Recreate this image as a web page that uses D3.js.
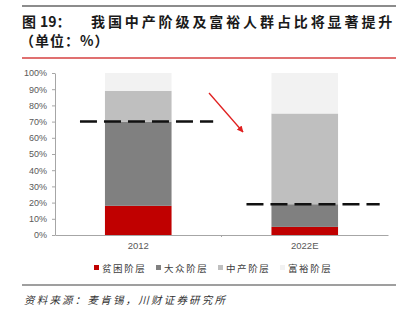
<!DOCTYPE html>
<html>
<head>
<meta charset="utf-8">
<script src="https://cdn.jsdelivr.net/npm/d3@7/dist/d3.min.js"></script>
<style>
  body { margin: 0; background: #fff; }
  svg { display: block; }
</style>
</head>
<body>
<svg id="chart" width="408" height="325"></svg>
<script>
// categories and stacked shares (%)
const years = ['2012', '2022E']
const poor = [18, 5]
const mass = [52, 14]
const middle = [19, 56]
const affluent = [11, 25]
const classNames = ['贫困阶层', '大众阶层', '中产阶层', '富裕阶层']
const yTicks = [0, 10, 20, 30, 40, 50, 60, 70, 80, 90, 100]

const colors = ['#c00000', '#808080', '#bfbfbf', '#f2f2f2']

const svg = d3.select('#chart')
const font = '"Liberation Sans", Arial, sans-serif'
const cjk = '"Noto Sans CJK SC", sans-serif'

// header rules and title
svg.append('line').attr('x1', 22).attr('x2', 396).attr('y1', 6).attr('y2', 6)
	.attr('stroke', '#8c8c8c').attr('stroke-width', 2)
const title = svg.append('g').attr('font-family', cjk).attr('font-weight', 'bold')
	.attr('font-size', 14).attr('fill', '#1a1a1a')
const line1 = title.append('text').attr('y', 26.5)
line1.append('tspan').attr('x', 22).text('图')
line1.append('tspan').attr('x', 40).text('19：')
line1.append('tspan').attr('x', 91).attr('letter-spacing', 2.9)
	.text('我国中产阶级及富裕人群占比将显著提升')
title.append('text').attr('x', 20).attr('y', 46).attr('letter-spacing', 1)
	.text('（单位：%）')
svg.append('line').attr('x1', 22).attr('x2', 396).attr('y1', 58).attr('y2', 58)
	.attr('stroke', '#e07070').attr('stroke-width', 2)

const margin = {top: 73, left: 55, right: 20, bottom: 90}
const width = 408 - margin.left - margin.right
const height = 325 - margin.top - margin.bottom

const g = svg.append('g').attr('transform', 'translate(' + margin.left + ',' + margin.top + ')')

const x = d3.scaleBand().domain(years).range([0, width]).paddingInner(0).paddingOuter(0)
const y = d3.scaleLinear().domain([0, 100]).range([height, 0])

// y axis
const yAxis = g.append('g')
	.call(d3.axisLeft(y).tickValues(yTicks).tickFormat(d => d + '%').tickSize(3).tickSizeOuter(0))
yAxis.select('.domain').attr('stroke', '#a6a6a6')
yAxis.selectAll('.tick line').attr('stroke', '#a6a6a6')
yAxis.selectAll('text').attr('font-family', font).attr('font-size', 9).attr('fill', '#595959')
	.attr('dx', -2)

// x axis
const xAxis = g.append('g').attr('transform', 'translate(0,' + height + ')')
	.call(d3.axisBottom(x).tickSize(0).tickSizeOuter(0))
xAxis.select('.domain').attr('stroke', '#a6a6a6')
xAxis.selectAll('text').attr('font-family', font).attr('font-size', 9.5).attr('fill', '#595959')
	.attr('dy', '1.2em')
g.append('line').attr('x1', width / 2).attr('x2', width / 2).attr('y1', height).attr('y2', height + 2)
	.attr('stroke', '#a6a6a6')

// stacked bars
const rows = years.map((yr, i) => ({year: yr, s0: poor[i], s1: mass[i], s2: middle[i], s3: affluent[i]}))
const stack = d3.stack().keys(['s0', 's1', 's2', 's3'])(rows)
const barW = x.bandwidth() * 0.4

g.selectAll('.layer')
	.data(stack)
	.join('g')
		.attr('fill', (d, i) => colors[i])
	.selectAll('rect')
	.data(d => d)
	.join('rect')
		.attr('x', d => x(d.data.year) + (x.bandwidth() - barW) / 2)
		.attr('y', d => y(d[1]))
		.attr('height', d => y(d[0]) - y(d[1]))
		.attr('width', barW)

// dashed marker at the top of the mass class
const markerY = years.map((yr, i) => poor[i] + mass[i])
g.selectAll('.marker')
	.data(years)
	.join('line')
		.attr('x1', d => x(d) + x.bandwidth() * 0.15)
		.attr('x2', d => x(d) + x.bandwidth() * 0.95)
		.attr('y1', (d, i) => y(markerY[i]))
		.attr('y2', (d, i) => y(markerY[i]))
		.attr('stroke', '#111').attr('stroke-width', 2.5)
		.attr('stroke-dasharray', '17,7')

// red arrow between the two years
svg.append('defs').append('marker')
	.attr('id', 'arrow').attr('viewBox', '0 0 10 10').attr('refX', 9).attr('refY', 5)
	.attr('markerWidth', 5).attr('markerHeight', 5).attr('orient', 'auto')
	.append('path').attr('d', 'M0,0L10,5L0,10z').attr('fill', '#e02020')
svg.append('line').attr('x1', 209).attr('y1', 93).attr('x2', 243).attr('y2', 132)
	.attr('stroke', '#e02020').attr('stroke-width', 1.3).attr('marker-end', 'url(#arrow)')

// legend
const legX = [94, 156, 218, 280]
const leg = svg.append('g')
classNames.forEach((name, i) => {
	leg.append('rect').attr('x', legX[i]).attr('y', 265).attr('width', 5).attr('height', 5)
		.attr('fill', colors[i])
	leg.append('text').attr('x', legX[i] + 8).attr('y', 271.5)
		.attr('font-family', cjk).attr('font-size', 9.5).attr('fill', '#404040')
		.attr('letter-spacing', 1.6)
		.text(name)
})

// footer
svg.append('line').attr('x1', 22).attr('x2', 396).attr('y1', 285).attr('y2', 285)
	.attr('stroke', '#404040').attr('stroke-width', 1.2)
svg.append('text').attr('x', 24).attr('y', 304)
	.attr('font-family', cjk).attr('font-size', 10.5).attr('font-style', 'italic')
	.attr('letter-spacing', 2.2)
	.attr('fill', '#333')
	.text('资料来源：麦肯锡，川财证券研究所')
</script>
</body>
</html>
